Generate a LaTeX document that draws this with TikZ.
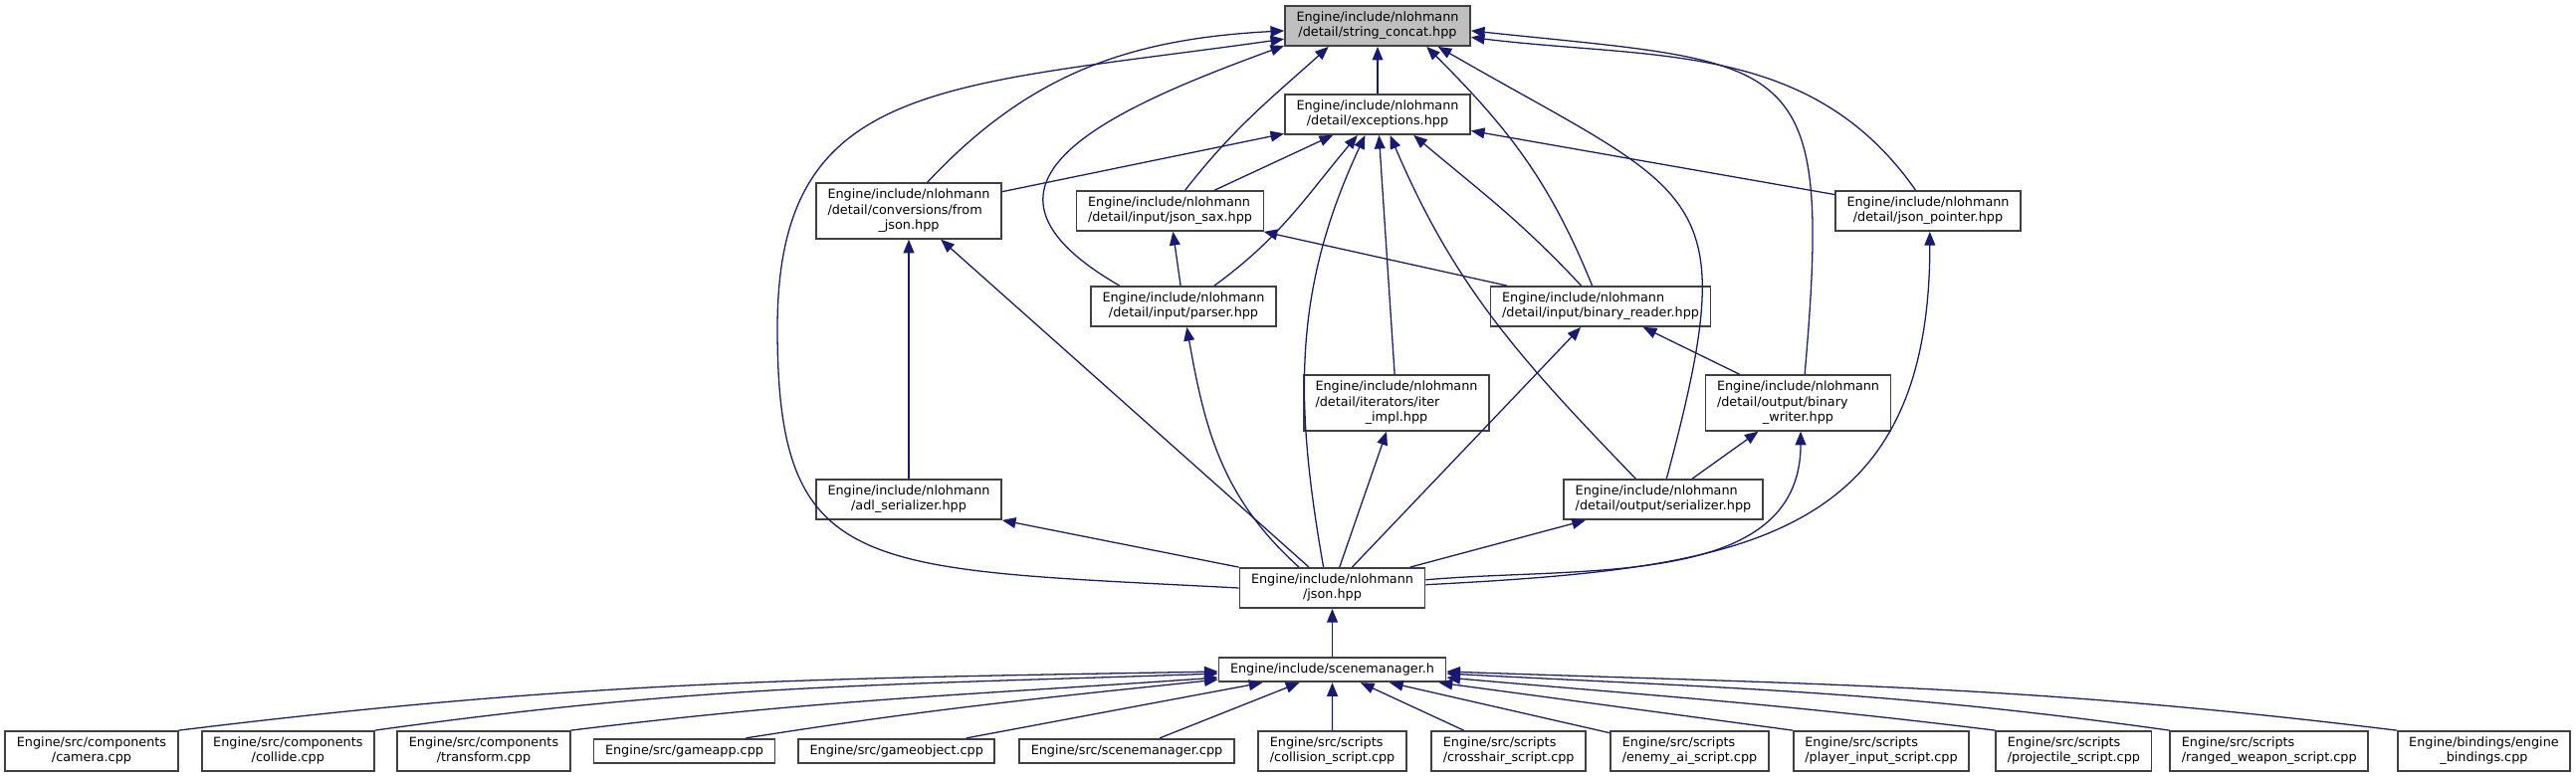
\documentclass[tikz,border=0pt]{standalone}
\usepackage{fontspec}
\setmainfont{DejaVu Sans}
\usepackage{tikz}
\usetikzlibrary{arrows.meta}
\definecolor{edgeblue}{RGB}{25,25,112}
\definecolor{selgray}{RGB}{191,191,191}
\definecolor{boxline}{RGB}{64,64,64}
\newcommand{\twol}[2]{\begin{tabular}{@{}l@{}}#1\\\multicolumn{1}{@{}c@{}}{#2}\end{tabular}}
\newcommand{\onel}[1]{\begin{tabular}{@{}c@{}}#1\end{tabular}}

\begin{document}
\begin{tikzpicture}[x=0.25pt, y=0.25pt,
    font=\fontsize{3.2pt}{3.875pt}\selectfont,
    fl/.style={rectangle,draw=boxline,line width=0.45pt,fill=white,
               inner xsep=2.875pt,inner ysep=1.125pt},
    cur/.style={fl,fill=selgray},
    dep/.style={draw=edgeblue,line width=0.32pt,-{Triangle[length=3.4pt,width=2.7pt]}}]

  \useasboundingbox (0,0) rectangle (2588,-781);
  \fill[white] (0,0) rectangle (2588,-781);

  \node[cur] (concat) at (1384,-26) {\twol{Engine/include/nlohmann}{/detail/string\_concat.hpp}};
  \node[fl] (exc) at (1384,-115) {\twol{Engine/include/nlohmann}{/detail/exceptions.hpp}};
  \node[fl] (fromjson) at (913,-212) {\twol{Engine/include/nlohmann\\/detail/conversions/from}{\_json.hpp}};
  \node[fl] (jsax) at (1175.5,-212) {\twol{Engine/include/nlohmann}{/detail/input/json\_sax.hpp}};
  \node[fl] (jptr) at (1937,-212) {\twol{Engine/include/nlohmann}{/detail/json\_pointer.hpp}};
  \node[fl] (parser) at (1189,-308) {\twol{Engine/include/nlohmann}{/detail/input/parser.hpp}};
  \node[fl] (breader) at (1608,-308) {\twol{Engine/include/nlohmann}{/detail/input/binary\_reader.hpp}};
  \node[fl] (iterimpl) at (1403,-405) {\twol{Engine/include/nlohmann\\/detail/iterators/iter}{\_impl.hpp}};
  \node[fl] (bwriter) at (1806.5,-405) {\twol{Engine/include/nlohmann\\/detail/output/binary}{\_writer.hpp}};
  \node[fl] (adl) at (913,-502) {\twol{Engine/include/nlohmann}{/adl\_serializer.hpp}};
  \node[fl] (serial) at (1671,-502) {\twol{Engine/include/nlohmann}{/detail/output/serializer.hpp}};
  \node[fl] (json) at (1338.5,-591) {\twol{Engine/include/nlohmann}{/json.hpp}};
  \node[fl] (scnh) at (1338.5,-673) {\onel{Engine/include/scenemanager.h}};

  \node[fl] (camera) at (92,-755) {\twol{Engine/src/components}{/camera.cpp}};
  \node[fl] (collide) at (289.3,-755) {\twol{Engine/src/components}{/collide.cpp}};
  \node[fl] (transform) at (486,-755) {\twol{Engine/src/components}{/transform.cpp}};
  \node[fl] (gameapp) at (687.5,-755) {\onel{Engine/src/gameapp.cpp}};
  \node[fl] (gameobject) at (900.7,-755) {\onel{Engine/src/gameobject.cpp}};
  \node[fl] (scnmgr) at (1132,-755) {\onel{Engine/src/scenemanager.cpp}};
  \node[fl] (collision) at (1338.6,-755) {\twol{Engine/src/scripts}{/collision\_script.cpp}};
  \node[fl] (crosshair) at (1515.7,-755) {\twol{Engine/src/scripts}{/crosshair\_script.cpp}};
  \node[fl] (enemyai) at (1697.5,-755) {\twol{Engine/src/scripts}{/enemy\_ai\_script.cpp}};
  \node[fl] (playerin) at (1890,-755) {\twol{Engine/src/scripts}{/player\_input\_script.cpp}};
  \node[fl] (projectile) at (2083.4,-755) {\twol{Engine/src/scripts}{/projectile\_script.cpp}};
  \node[fl] (ranged) at (2279.7,-755) {\twol{Engine/src/scripts}{/ranged\_weapon\_script.cpp}};
  \node[fl] (bindings) at (2495.4,-755) {\twol{Engine/bindings/engine}{\_bindings.cpp}};

  \coordinate (lbend) at (781,-330);

  \draw[dep] (exc) -- (concat);
  \draw[dep] (fromjson.57) to[out=47,in=183] (concat.183);
  \draw[dep] (json.180) to[out=177,in=-90,out distance=95pt,in distance=62.5pt] (lbend)
             to[out=90,in=188,out distance=62.5pt,in distance=87.5pt] (concat.188);
  \draw[dep] (jsax.54) to[out=52,in=222] (concat.203);
  \draw[dep] (parser.162) to[out=150,in=200,looseness=1.75] (concat.192);
  \draw[dep] (breader.112) to[out=112,in=-45] (concat.-23);
  \draw[dep] (serial.81) to[out=75,in=-30,looseness=1.6] (concat.-19);
  \draw[dep] (bwriter.77) to[out=85,in=-6,looseness=1.75] (concat.-3);
  \draw[dep] (jptr.121) to[out=125,in=-7] (concat.-7);

  \draw[dep] (fromjson) -- (exc);
  \draw[dep] (jsax) -- (exc);
  \draw[dep] (parser.34) to[out=36,in=230] (exc.226);
  \draw[dep] (json.113) to[out=100,in=245] (exc.239);
  \draw[dep] (iterimpl) -- (exc);
  \draw[dep] (serial.143) to[out=134,in=-67] (exc.-59);
  \draw[dep] (breader.133) to[out=133,in=-40] (exc.-30);
  \draw[dep] (jptr) -- (exc);

  \draw[dep] (adl) -- (fromjson);
  \draw[dep] (json) -- (fromjson);
  \draw[dep] (parser) -- (jsax);
  \draw[dep] (breader) -- (jsax);
  \draw[dep] (json.148) to[out=138,in=-80] (parser.-81);
  \draw[dep] (bwriter) -- (breader);
  \draw[dep] (json) -- (breader);
  \draw[dep] (json) -- (iterimpl);
  \draw[dep] (serial) -- (bwriter);
  \draw[dep] (json.5) to[out=5,in=-90] (bwriter.-85);
  \draw[dep] (json.north west) -- (adl.south east);
  \draw[dep] (json) -- (serial);
  \draw[dep] (json.2) to[out=3,in=-90,looseness=1.3] (jptr.-85);
  \draw[dep] (scnh) -- (json);

  \draw[dep] (camera.north east) to[out=7,in=181] (scnh.181);
  \draw[dep] (collide.north east) to[out=8,in=182] (scnh.182);
  \draw[dep] (transform.north east) to[out=7,in=184] (scnh.184);
  \draw[dep] (gameapp.12) to[out=9,in=186] (scnh.185);
  \draw[dep] (gameobject) -- (scnh);
  \draw[dep] (scnmgr) -- (scnh);
  \draw[dep] (collision) -- (scnh);
  \draw[dep] (crosshair) -- (scnh);
  \draw[dep] (enemyai) -- (scnh);
  \draw[dep] (playerin.north west) -- (scnh.-7);
  \draw[dep] (projectile.north west) to[out=173,in=-5] (scnh.-4);
  \draw[dep] (ranged.north west) to[out=172,in=-3] (scnh.-2);
  \draw[dep] (bindings.north west) to[out=173,in=-2] (scnh.-1);
\end{tikzpicture}
\end{document}
